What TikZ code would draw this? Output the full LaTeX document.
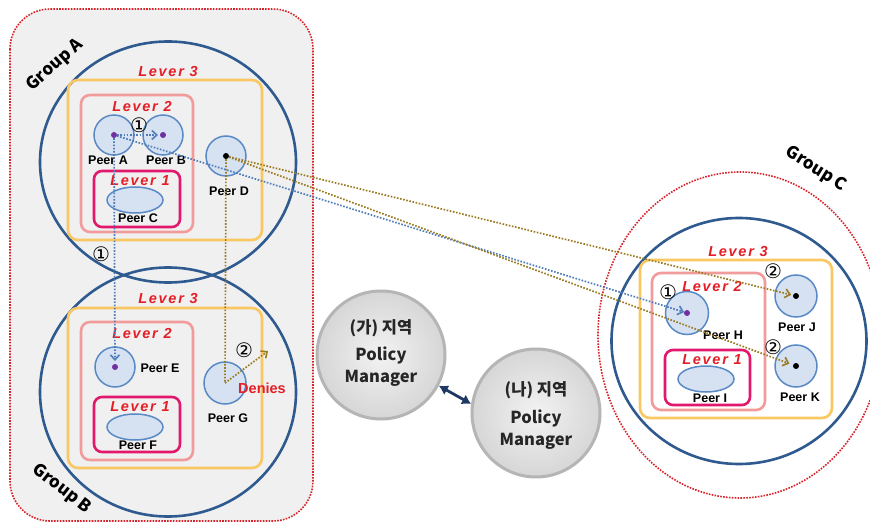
\documentclass[tikz,border=0pt]{standalone}
\usepackage{fontspec}
\setmainfont{Liberation Sans}
\newfontfamily\kr{Noto Sans CJK KR}
\newfontfamily\dv{DejaVu Sans}
\usetikzlibrary{arrows.meta,shapes.geometric}
\definecolor{grpred}{HTML}{D8232A}
\definecolor{navy}{HTML}{2F5A8F}
\definecolor{lvthree}{HTML}{F9C862}
\definecolor{lvtwo}{HTML}{F29B9B}
\definecolor{lvone}{HTML}{E2186C}
\definecolor{peerfill}{HTML}{D6E1F2}
\definecolor{peerline}{HTML}{5A8AC6}
\definecolor{bluedot}{HTML}{4F7DBA}
\definecolor{browndot}{HTML}{9A7B22}
\definecolor{levtxt}{HTML}{E41E26}
\definecolor{purp}{HTML}{7030A0}
\definecolor{bggray}{HTML}{F0F0F0}
\definecolor{darknavy}{HTML}{1F3864}
\definecolor{pmtext}{HTML}{262626}
\begin{document}
\begin{tikzpicture}[x=1pt,y=-1pt,
  grp/.style={draw=grpred, line width=1.6pt, dash pattern=on 1.6pt off 1.3pt},
  ring/.style={ellipse, draw=navy, line width=2.6pt, inner sep=0pt},
  boxthree/.style={draw=lvthree, line width=2.6pt, rounded corners=10pt},
  boxtwo/.style={draw=lvtwo, line width=2.6pt, rounded corners=9pt},
  boxone/.style={draw=lvone, line width=2.6pt, rounded corners=8pt},
  peer/.style={circle, draw=peerline, fill=peerfill, line width=1.5pt, minimum size=#1, inner sep=0pt},
  peerov/.style={ellipse, draw=peerline, fill=peerfill, line width=1.5pt, minimum width=56pt, minimum height=26pt, inner sep=0pt},
  plab/.style={font=\bfseries\fontsize{12.5}{12.5}\selectfont, inner sep=0pt},
  lev/.style={font=\bfseries\itshape\fontsize{14.5}{14.5}\selectfont\addfontfeature{LetterSpace=12}, text=levtxt, inner sep=0pt},
  num/.style={font=\dv\fontsize{20}{20}\selectfont, inner sep=0pt},
  glab/.style={font=\kr\bfseries\fontsize{17}{17}\selectfont, inner sep=0pt},
  bdl/.style={draw=bluedot, line width=1.7pt, dash pattern=on 1.6pt off 1.6pt},
  brl/.style={draw=browndot, line width=1.7pt, dash pattern=on 1.6pt off 1.6pt},
  chevb/.style={-{Straight Barb[length=5pt,width=9pt,line width=1.6pt,color=bluedot]}},
  chevr/.style={-{Straight Barb[length=5pt,width=9pt,line width=1.6pt,color=browndot]}},
  pm/.style={circle, minimum size=128pt, inner sep=0pt, draw=gray!58, line width=3pt, inner color=gray!10, outer color=gray!32},
  pmt/.style={font=\kr\bfseries\fontsize{16.5}{16.5}\selectfont, text=pmtext, inner sep=0pt}
]
\clip (0,0) rectangle (870,526);
\fill[white] (0,0) rectangle (870,526);

% group frames
\draw[grp, fill=bggray, rounded corners=40pt] (10,9) rectangle (313,521);
\draw[grp] (740,335) ellipse [x radius=142, y radius=163];

\node[ring, minimum width=256pt, minimum height=241pt] (ga) at (168,162) {};
\node[ring, minimum width=256pt, minimum height=249pt] (gb) at (168,392) {};
\node[ring, minimum width=255pt, minimum height=246pt] (gc) at (739,341) {};

\node[glab, rotate=42] (gat) at (55,65) {Group A};
\node[glab, rotate=-38] (gbt) at (62,489) {Group B};
\node[glab, rotate=-32] (gct) at (816,169) {Group C};

% level boxes group A
\draw[boxthree] (68,80) rectangle (262,240);
\draw[boxtwo] (81,95) rectangle (193,232);
\draw[boxone] (94,171) rectangle (180,227);
% group B
\draw[boxthree] (68,308) rectangle (262,468);
\draw[boxtwo] (81,322) rectangle (193,460);
\draw[boxone] (94,397) rectangle (180,452);
% group C
\draw[boxthree] (640,260) rectangle (832,418);
\draw[boxtwo] (652,273) rectangle (765,410);
\draw[boxone] (665,350) rectangle (750,405);

\node[lev] (la3) at (168,72) {Lever 3};
\node[lev] (la2) at (142,107) {Lever 2};
\node[lev] (la1) at (140,181) {Lever 1};
\node[lev] (lb3) at (168,299) {Lever 3};
\node[lev] (lb2) at (142,334) {Lever 2};
\node[lev] (lb1) at (140,407) {Lever 1};
\node[lev] (lc3) at (738,252) {Lever 3};
\node[lev] (lc2) at (712,287) {Lever 2};
\node[lev] (lc1) at (712,360) {Lever 1};

% peers
\node[peer=40pt] (pa) at (114,135) {};
\node[peer=40pt] (pb) at (163,135) {};
\node[peerov] (pc) at (135,200) {};
\node[peer=40pt] (pd) at (226,156) {};
\node[peer=40pt] (pe) at (115,367) {};
\node[peerov] (pf) at (135,427) {};
\node[peer=42pt] (pg) at (225,383) {};
\node[peer=43pt] (ph) at (687,313) {};
\node[peerov] (pi) at (706,379) {};
\node[peer=42pt] (pj) at (796,296) {};
\node[peer=42pt] (pk) at (796,366) {};

\node[plab] at (108,160) {Peer A};
\node[plab] at (166,160) {Peer B};
\node[plab] at (138,218) {Peer C};
\node[plab] at (229,191) {Peer D};
\node[plab] at (160,368) {Peer E};
\node[plab] at (138,445) {Peer F};
\node[plab] at (228,418) {Peer G};
\node[plab] at (723,335) {Peer H};
\node[plab] at (710,398) {Peer I};
\node[plab] at (797,327) {Peer J};
\node[plab] at (800,397) {Peer K};

% connectors
\coordinate (deny) at (268,351);
\draw[bdl, chevb, shorten >=5pt] (pa.center) -- (pb.center);
\draw[bdl, chevb, shorten >=6pt] (pa.center) -- (pe.center);
\draw[bdl, chevb, shorten >=3pt] (pa.center) -- (ph.center);
\draw[brl, chevr, shorten >=5pt] (pd.center) -- (pj.center);
\draw[brl, chevr, shorten >=7pt] (pd.center) -- (pk.center);
\draw[brl] (pd.center) -- (pg.center);
\draw[brl, chevr] (pg.center) -- (deny);

% dots
\fill[purp] (pa.center) circle (3pt);
\fill[purp] (pb.center) circle (3pt);
\fill[purp] (pe.center) circle (3pt);
\fill[purp] (ph.center) circle (3pt);
\fill[black] (pd.center) circle (3pt);
\fill[black] (pj.center) circle (3pt);
\fill[black] (pk.center) circle (3pt);

% step numbers
\node[num] at (139,125) {①};
\node[num] at (101,254) {①};
\node[num] at (244,350) {②};
\node[num] at (668,292) {①};
\node[num] at (773,271) {②};
\node[num] at (773,347) {②};

\node[font=\bfseries\fontsize{14.5}{14.5}\selectfont, text=levtxt, inner sep=0pt] (den) at (262,388) {Denies};

% policy managers
\node[pm] (pmA) at (381,355) {};
\node[pm] (pmB) at (536,413) {};
\node[pmt] at (381,328) {(가) 지역};
\node[pmt] at (381,355) {Policy};
\node[pmt] at (381,378) {Manager};
\node[pmt] at (536,390) {(나) 지역};
\node[pmt] at (536,418) {Policy};
\node[pmt] at (536,441) {Manager};
\draw[darknavy, line width=2.8pt, {Latex[length=9pt,width=11pt]}-{Latex[length=9pt,width=11pt]}] (pmA.-28) -- (pmB.172);
\end{tikzpicture}
\end{document}
